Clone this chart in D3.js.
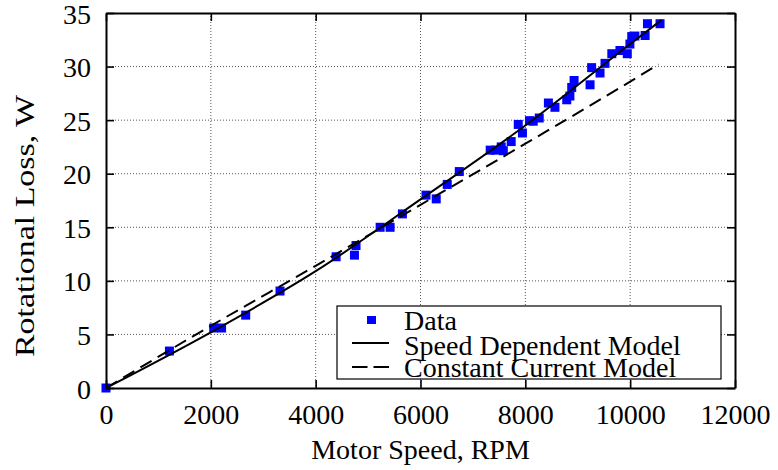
<!DOCTYPE html>
<html>
<head>
  <meta charset="UTF-8">
  <style>
    body { margin: 0; background: #fff; }
    text { font-family: "Liberation Serif", "Times New Roman", serif; font-size: 28px; fill: #000; }
  </style>
</head>
<body>
<!-- Load d3.js -->
<script src="https://d3js.org/d3.v7.min.js"></script>

<div id="my_dataviz"></div>
<script>

// measured rotational loss points
var speedRpm = [0, 1210, 2055, 2205, 2665, 3320, 4390, 4740, 4770, 5230, 5420, 5655,
  6105, 6300, 6510, 6740, 7330, 7430, 7540, 7580, 7730, 7865, 7945, 8080, 8150,
  8265, 8440, 8565, 8790, 8850, 8885, 8930, 9235, 9265, 9425, 9520, 9650, 9805,
  9945, 9995, 10030, 10090, 10285, 10330, 10570];
var lossW = [0, 3.45, 5.6, 5.6, 6.8, 9.05, 12.25, 12.4, 13.3, 15.0, 15.0, 16.25,
  18.0, 17.65, 19.0, 20.2, 22.2, 22.2, 22.5, 22.15, 23.0, 24.6, 23.8, 24.95, 24.9,
  25.2, 26.6, 26.2, 26.9, 27.25, 28.05, 28.7, 28.3, 29.9, 29.4, 30.3, 31.2, 31.5,
  31.2, 32.1, 32.8, 32.85, 32.9, 34.0, 34.0];

// model curves
var sdmRpm = [0, 2000, 4000, 6000, 8000, 10000, 10600];
var sdmLoss = [0, 5.2, 10.9, 17.6, 24.5, 32.1, 34.35];
var ccmRpm = [0, 2000, 4000, 6000, 8000, 10000, 10540];
var ccmLoss = [0, 5.8, 11.4, 17.1, 22.8, 28.6, 30.2];

var xTicks = [0, 2000, 4000, 6000, 8000, 10000, 12000];
var yTicks = [0, 5, 10, 15, 20, 25, 30, 35];
var legendLabels = ["Data", "Speed Dependent Model", "Constant Current Model"];

// set the dimensions and margins of the graph
var margin = {top: 13, right: 43, bottom: 82, left: 106},
  width = 778 - margin.left - margin.right,
  height = 470 - margin.top - margin.bottom;

var root = d3.select("#my_dataviz")
.append("svg")
  .attr("width", 778)
  .attr("height", 470);

var svg = root.append("g")
  .attr("transform", "translate(" + margin.left + "," + margin.top + ")");

var x = d3.scaleLinear().domain([0, 12000]).range([0, width]);
var y = d3.scaleLinear().domain([0, 35]).range([height, 0]);

// dotted grid
svg.append("g")
  .selectAll("line")
  .data(xTicks.slice(1, -1))
  .enter()
  .append("line")
    .attr("x1", function(d) { return x(d); })
    .attr("x2", function(d) { return x(d); })
    .attr("y1", 0)
    .attr("y2", height)
    .style("stroke", "#555")
    .style("stroke-dasharray", "1,2");
svg.append("g")
  .selectAll("line")
  .data(yTicks.slice(1, -1))
  .enter()
  .append("line")
    .attr("x1", 0)
    .attr("x2", width)
    .attr("y1", function(d) { return y(d); })
    .attr("y2", function(d) { return y(d); })
    .style("stroke", "#555")
    .style("stroke-dasharray", "1,2");

// data squares
svg.append("g")
  .selectAll("rect")
  .data(speedRpm)
  .enter()
  .append("rect")
    .attr("x", function(d) { return x(d) - 4.5; })
    .attr("y", function(d, i) { return y(lossW[i]) - 4.5; })
    .attr("width", 9)
    .attr("height", 9)
    .style("fill", "#0000ff");

// model lines
var line = d3.line()
  .x(function(d) { return x(d[0]); })
  .y(function(d) { return y(d[1]); })
  .curve(d3.curveMonotoneX);

svg.append("path")
  .datum(d3.zip(ccmRpm, ccmLoss))
  .attr("d", line)
  .style("fill", "none")
  .style("stroke", "#000")
  .style("stroke-width", 2)
  .style("stroke-dasharray", "13,7");

svg.append("path")
  .datum(d3.zip(sdmRpm, sdmLoss))
  .attr("d", line)
  .style("fill", "none")
  .style("stroke", "#000")
  .style("stroke-width", 2);

// legend
var legend = root.append("g");
legend.append("rect")
  .attr("x", 337)
  .attr("y", 306)
  .attr("width", 384)
  .attr("height", 73)
  .style("fill", "#fff")
  .style("stroke", "#000")
  .style("stroke-width", 1.2);
legend.append("rect")
  .attr("x", 367)
  .attr("y", 316)
  .attr("width", 9)
  .attr("height", 8)
  .style("fill", "#0000ff");
legend.append("line")
  .attr("x1", 352).attr("x2", 389)
  .attr("y1", 343).attr("y2", 343)
  .style("stroke", "#000")
  .style("stroke-width", 2);
legend.append("line")
  .attr("x1", 352).attr("x2", 389)
  .attr("y1", 367).attr("y2", 367)
  .style("stroke", "#000")
  .style("stroke-width", 2)
  .style("stroke-dasharray", "15.5,6");
legend.selectAll("text.lab")
  .data(legendLabels)
  .enter()
  .append("text")
    .attr("class", "lab")
    .attr("x", 404)
    .attr("y", function(d, i) { return [330, 355, 377][i]; })
    .text(function(d) { return d; });

// axes with inward ticks on all four sides
function styleAxis(g) {
  g.select(".domain").style("stroke", "#000").style("stroke-width", 2);
  g.selectAll(".tick line").style("stroke", "#000").style("stroke-width", 1.6);
  g.attr("font-size", null).attr("font-family", null);
}

svg.append("g")
  .attr("transform", "translate(0," + height + ")")
  .call(d3.axisBottom(x).tickValues(xTicks).tickFormat(d3.format("d"))
    .tickSizeInner(-8).tickSizeOuter(0).tickPadding(16))
  .call(styleAxis);
svg.append("g")
  .call(d3.axisTop(x).tickValues(xTicks).tickSizeInner(-8).tickSizeOuter(0).tickFormat(""))
  .call(styleAxis);
svg.append("g")
  .call(d3.axisLeft(y).tickValues(yTicks).tickFormat(d3.format("d"))
    .tickSizeInner(-8).tickSizeOuter(0).tickPadding(15))
  .call(styleAxis)
  .selectAll(".tick text")
    .attr("dy", "0.36em");
svg.append("g")
  .attr("transform", "translate(" + width + ",0)")
  .call(d3.axisRight(y).tickValues(yTicks).tickSizeInner(-8).tickSizeOuter(0).tickFormat(""))
  .call(styleAxis);

// axis titles
root.append("text")
  .attr("x", margin.left + width / 2)
  .attr("y", 459)
  .attr("text-anchor", "middle")
  .text("Motor Speed, RPM");

root.append("text")
  .attr("transform", "translate(34,226) rotate(-90)")
  .attr("text-anchor", "middle")
  .attr("textLength", 262)
  .attr("lengthAdjust", "spacingAndGlyphs")
  .text("Rotational Loss,  W");

</script>
</body>
</html>
